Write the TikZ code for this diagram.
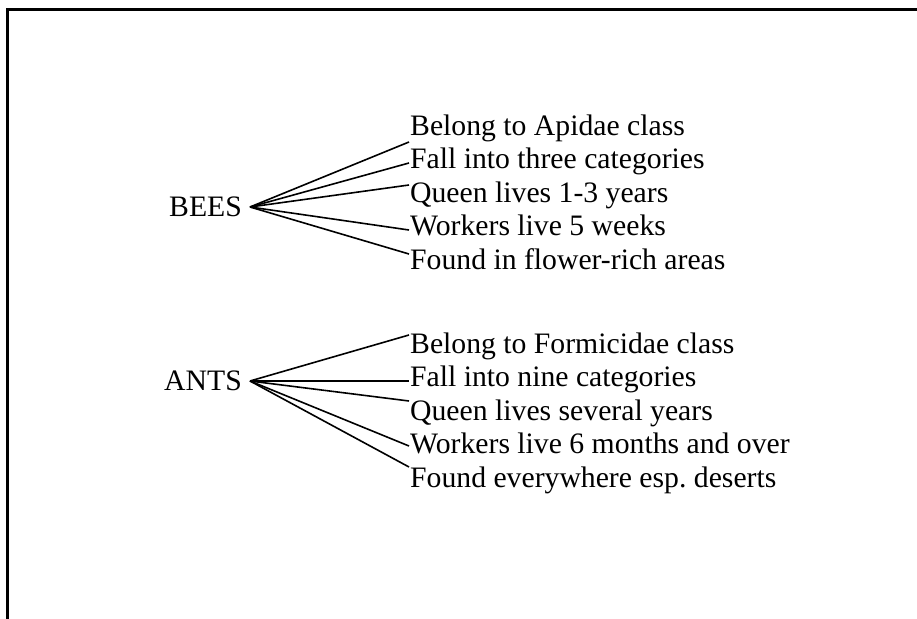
\documentclass[tikz,border=0pt]{standalone}
\usepackage{fontspec}
\setmainfont{Liberation Serif}
\frenchspacing

\begin{document}
\begin{tikzpicture}[x=1bp,y=-1bp,
        kind/.style={anchor=east, inner xsep=8bp, inner ysep=0pt, font=\fontsize{29.7bp}{33bp}\selectfont},
        fact/.style={anchor=base west, inner sep=0pt, font=\fontsize{29.7bp}{33bp}\selectfont},
        spoke/.style={line width=1.6bp}]
        \useasboundingbox (0,0) rectangle (917,619);

        % Рамка
        \draw[line width=3bp] (7.5,619) -- (7.5,9.5) -- (917,9.5);

        % Заголовки
        \node[kind] (bees) at (250,207) {BEES};
        \node[kind] (ants) at (250,381) {ANTS};

        % Пчёлы
        \node[fact] (b1) at (410,135.5) {Belong to Apidae class};
        \node[fact] (b2) at (410,168.9) {Fall into three categories};
        \node[fact] (b3) at (410,202.3) {Queen lives 1-3 years};
        \node[fact] (b4) at (410,235.7) {Workers live 5 weeks};
        \node[fact] (b5) at (410,269.1) {Found in flower-rich areas};

        % Муравьи
        \node[fact] (a1) at (410,353.5) {Belong to Formicidae class};
        \node[fact] (a2) at (410,386.9) {Fall into nine categories};
        \node[fact] (a3) at (410,420.3) {Queen lives several years};
        \node[fact] (a4) at (410,453.7) {Workers live 6 months and over};
        \node[fact] (a5) at (410,487.1) {Found everywhere esp. deserts};

        % Концы линий
        \coordinate (b1e) at (409,142);
        \coordinate (b2e) at (409,163);
        \coordinate (b3e) at (409,185);
        \coordinate (b4e) at (409,230);
        \coordinate (b5e) at (409,254);
        \coordinate (a1e) at (409,335);
        \coordinate (a2e) at (409,381);
        \coordinate (a3e) at (409,401);
        \coordinate (a4e) at (409,446);
        \coordinate (a5e) at (409,467);

        % Линии
        \draw[spoke] (bees.east) -- (b1e);
        \draw[spoke] (bees.east) -- (b2e);
        \draw[spoke] (bees.east) -- (b3e);
        \draw[spoke] (bees.east) -- (b4e);
        \draw[spoke] (bees.east) -- (b5e);
        \draw[spoke] (ants.east) -- (a1e);
        \draw[spoke] (ants.east) -- (a2e);
        \draw[spoke] (ants.east) -- (a3e);
        \draw[spoke] (ants.east) -- (a4e);
        \draw[spoke] (ants.east) -- (a5e);
    \end{tikzpicture}
\end{document}
